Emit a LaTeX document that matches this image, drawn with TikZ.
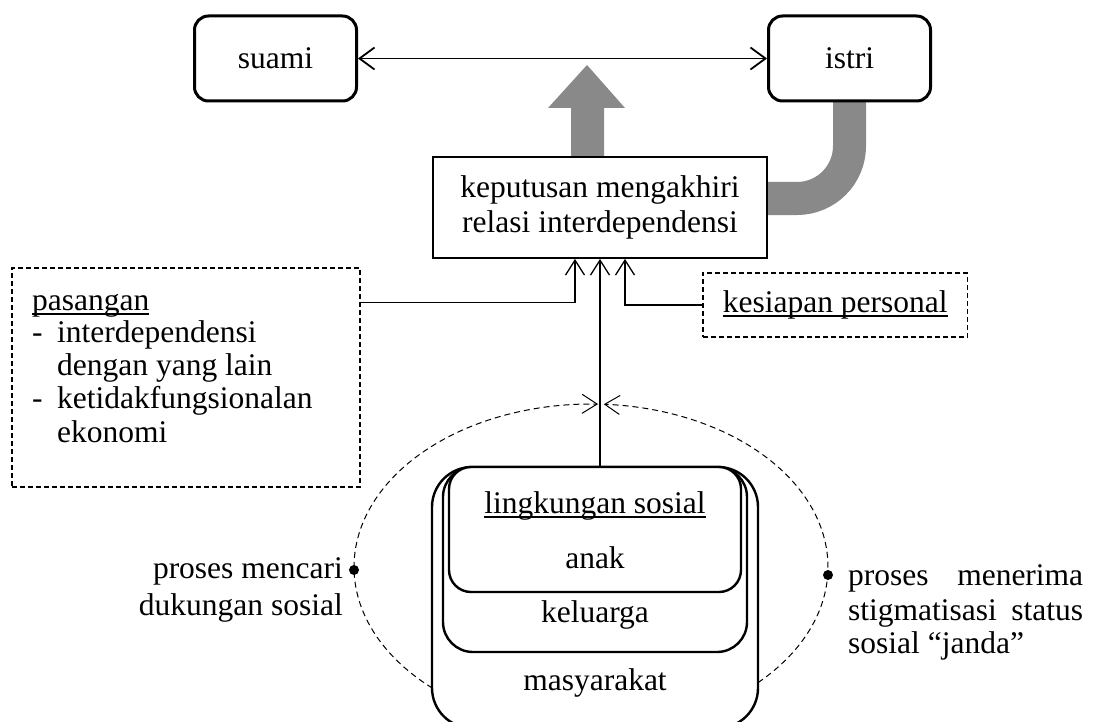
\documentclass[tikz,border=0pt]{standalone}
\usepackage{fontspec}
\setmainfont{Liberation Serif}
\usetikzlibrary{arrows.meta}
\definecolor{bandgray}{RGB}{137,137,137}
% word-style underline that sits just under the baseline
\newsavebox\ulbox
\newcommand\ulined[1]{\sbox\ulbox{#1}\rlap{\usebox\ulbox}\rule[-4.5pt]{\wd\ulbox}{1.6pt}}
\begin{document}
\begin{tikzpicture}[x=1pt,y=-1pt,
  every node/.style={font=\fontsize{31.5pt}{35pt}\selectfont, inner sep=0pt},
  person/.style={draw, line width=3pt, rounded corners=14pt, minimum width=162pt, minimum height=85pt, fill=white},
  mainbox/.style={draw, line width=1.8pt, fill=white, minimum width=334pt, minimum height=101pt, align=center},
  dashbox/.style={draw, line width=1.6pt, dash pattern=on 5pt off 3pt},
  layer/.style={draw, line width=2.4pt, fill=white},
  barb/.style={-{Straight Barb[length=15pt,width=19pt]}},
  link/.style={line width=1.3pt, barb},
  ell/.style={line width=1pt, dash pattern=on 6pt off 4pt},
  dot/.style={circle, fill, minimum size=10pt},
  txt/.style={anchor=base},
  txtl/.style={anchor=base west},
  txtr/.style={anchor=base east}
]
\useasboundingbox (0,0) rectangle (1094,722);

% grey band from the wife down and into the decision box
\draw[bandgray, line width=33pt] (849.5,90) -- (849.5,146)
  .. controls (849.5,175) and (826,198.5) .. (797,198.5) -- (700,198.5);
% grey block arrow leaving the decision box upwards
\fill[bandgray] (571,180) -- (571,108) -- (548,108) -- (587,65) -- (625,108)
  -- (604,108) -- (604,180) -- cycle;

% partners
\node[person] (suami) at (275.5,58.5) {suami};
\node[person] (istri) at (849.5,58.5) {istri};
\draw[line width=1.8pt, {Straight Barb[length=15pt,width=22pt]}-{Straight Barb[length=15pt,width=22pt]}]
  (suami) -- (istri);

% decision
\node[mainbox] (kep) at (600,207.5) {keputusan mengakhiri\\relasi interdependensi};

% partner factors
\node[dashbox, minimum width=348pt, minimum height=219pt] (pas) at (186,377.5) {};
\node[txtl] (pas0) at (32,310) {\ulined{pasangan}};
\node[txtl] (pas1) at (32,342) {-};
\node[txtl] (pas1a) at (57,342) {interdependensi};
\node[txtl] (pas1b) at (57,375) {dengan yang lain};
\node[txtl] (pas2) at (32,408) {-};
\node[txtl] (pas2a) at (57,408) {ketidakfungsionalan};
\node[txtl] (pas2b) at (57,442) {ekonomi};

% personal readiness
\node[dashbox, anchor=west, inner xsep=20pt, minimum height=64pt] (kes) at (702,305)
  {\ulined{kesiapan personal}};

% nested social environment
\node[layer, rounded corners=40pt, minimum width=326pt, minimum height=261pt] (mas) at (595,597.5) {};
\node[layer, rounded corners=30pt, minimum width=304pt, minimum height=185pt] (kel) at (595,559.5) {};
\node[layer, rounded corners=22pt, minimum width=292pt, minimum height=125pt] (anak) at (595,529.5) {};
\node[txt] (tl) at (595,513) {\ulined{lingkungan sosial}};
\node[txt] (ta) at (595,568) {anak};
\node[txt] (tk) at (595,622) {keluarga};
\node[txt] (tm) at (595,690) {masyarakat};

% influences on the decision
\draw[link] ([yshift=-35pt]pas.north east) -| ([xshift=-25pt]kep.south);
\draw[link] (kes.west) -| ([xshift=25pt]kep.south);
\draw[link] (kep.south |- mas.north) -- (kep.south);

% coping processes around the social environment
\draw[ell, barb] plot[domain=132:271.7, samples=90, smooth]
  ({591+237*cos(\x)},{567+163*sin(\x)});
\draw[ell, barb] plot[domain=45.2:-86.9, samples=90, smooth]
  ({591+237*cos(\x)},{567+163*sin(\x)});
\node[dot] (dl) at (354,570) {};
\node[dot] (dr) at (828,575) {};
\node[txtr] (lt1) at (343,578) {proses mencari};
\node[txtr] (lt2) at (343,615) {dukungan sosial};
\node[txtl] (rt1) at (848,585) {\makebox[235pt][s]{proses menerima}};
\node[txtl] (rt2) at (848,620) {\makebox[235pt][s]{stigmatisasi status}};
\node[txtl] (rt3) at (848,653) {sosial “janda”};
\end{tikzpicture}
\end{document}
